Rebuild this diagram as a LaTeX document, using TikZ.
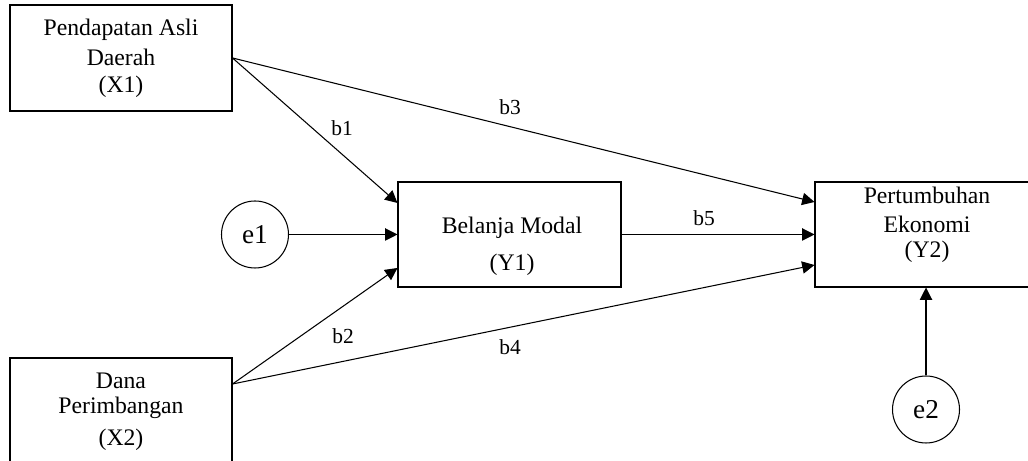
\documentclass[tikz,border=0pt]{standalone}
\usepackage{fontspec}
\setmainfont{Liberation Serif}
\usetikzlibrary{calc,arrows.meta}

\begin{document}
\begin{tikzpicture}[
    box/.style={draw=black, line width=0.6pt, minimum width=4.44cm, minimum height=2.12cm, inner sep=0pt, align=center, font=\fontsize{13.5}{16}\selectfont},
    err/.style={draw=black, line width=0.6pt, circle, minimum size=1.34cm, inner sep=0pt, font=\fontsize{15.5}{18}\selectfont},
    txt/.style={align=center, font=\fontsize{13.5}{16}\selectfont},
    coef/.style={font=\fontsize{12.2}{14}\selectfont},
    arr/.style={-{Triangle[length=7pt, width=7pt]}, line width=0.6pt}
]
    \useasboundingbox (0,0) rectangle (20.56,9.22);

    % Define boxes for the variables
    \node[box] (bX1) at (2.42,8.06) {Pendapatan Asli\\[1pt]Daerah\\[-0.7pt](X1)};
    \node[box, minimum height=2.14cm] (bX2) at (2.42,0.99) {Dana\\[-1.3pt]Perimbangan\\[2pt](X2)};
    \node[box, minimum width=4.46cm, minimum height=2.10cm] (bY1) at (10.19,4.53) {};
    \node[box, minimum width=4.48cm, minimum height=2.10cm] (bY2) at (18.54,4.53) {};

    % Texts of the two right boxes, sitting off centre
    \node[txt] (tY1) at ($(bY1.center) + (0.05,-0.23)$) {Belanja Modal\\[5pt](Y1)};
    \node[txt] (tY2) at ($(bY2.center) + (0,0.2)$) {Pertumbuhan\\[0.4pt]Ekonomi\\[-1.8pt](Y2)};

    % Error terms
    \node[err] (cE1) at (5.10,4.53) {e1};
    \node[err] (cE2) at (18.52,1.03) {e2};

    % Define points where the arrows leave and hit the boxes
    \coordinate (pX2) at ($(bX2.east) + (0,0.55)$);
    \coordinate (pY1a) at ($(bY1.west) + (0,0.63)$);
    \coordinate (pY1b) at ($(bY1.west) + (0,-0.67)$);
    \coordinate (pY2a) at ($(bY2.west) + (0,0.65)$);
    \coordinate (pY2b) at ($(bY2.west) + (0,-0.61)$);

    % Draw the paths
    \draw[arr] (bX1.east) -- (pY1a);
    \draw[arr] (bX1.east) -- (pY2a);
    \draw[arr] (pX2) -- (pY1b);
    \draw[arr] (pX2) -- (pY2b);
    \draw[arr] (cE1) -- (bY1);
    \draw[arr] (bY1) -- (bY2);
    \draw[arr] (cE2.north) -- (cE2.north |- bY2.south);

    % Label the paths
    \node[coef] (lB1) at (6.84,6.66) {b1};
    \node[coef] (lB2) at (6.86,2.50) {b2};
    \node[coef] (lB3) at (10.20,7.08) {b3};
    \node[coef] (lB4) at (10.20,2.28) {b4};
    \node[coef] (lB5) at (14.08,4.86) {b5};

\end{tikzpicture}
\end{document}
